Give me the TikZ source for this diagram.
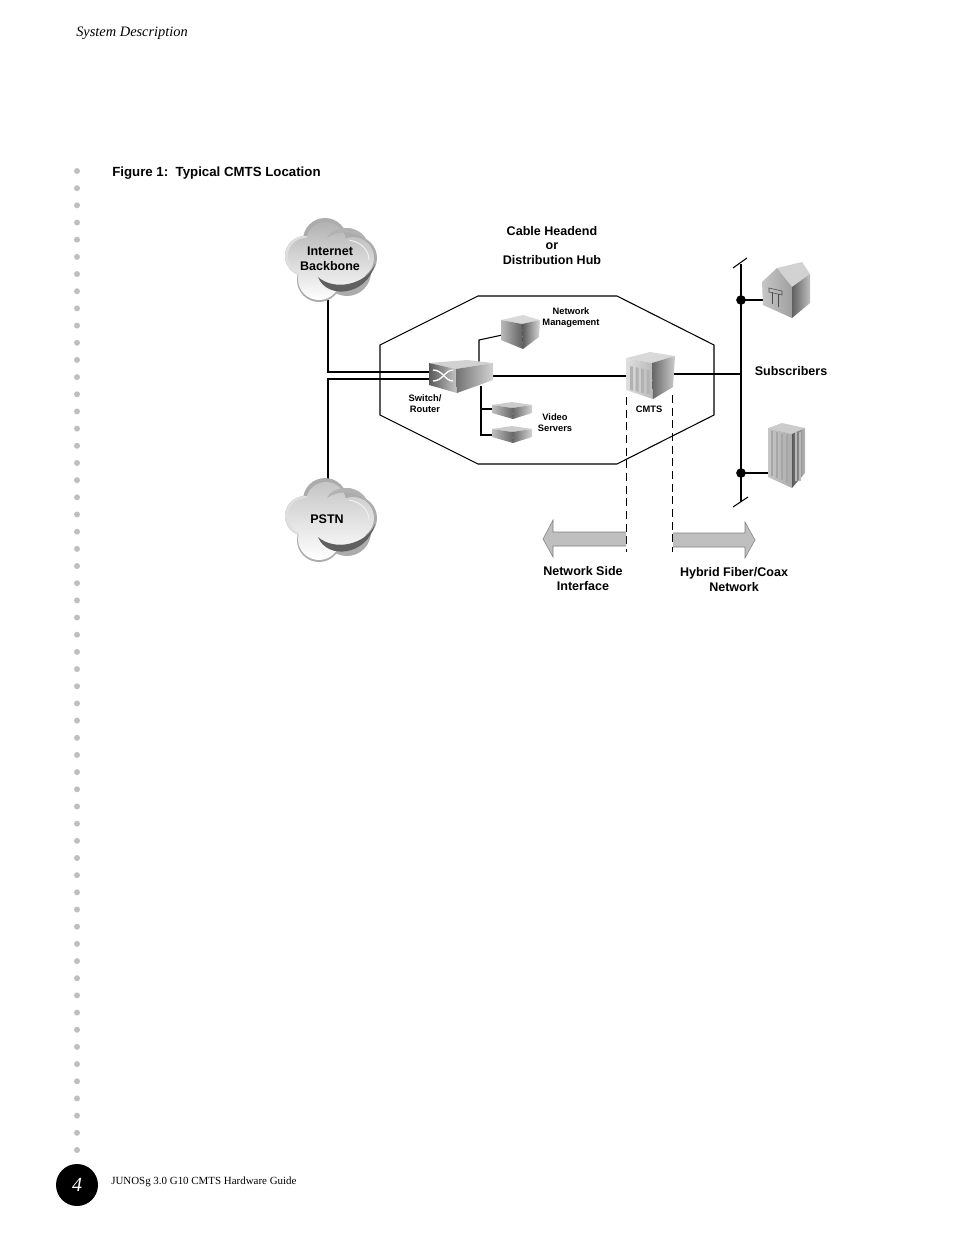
\documentclass[tikz,border=0pt]{standalone}
\usepackage{fontspec}
\setmainfont{Liberation Sans}
\newfontfamily\pagefont{Liberation Serif}
\definecolor{rail}{gray}{0.75}
\definecolor{arrowgray}{gray}{0.75}

\tikzset{
    biglabel/.style={font=\fontsize{9.4}{11}\selectfont\bfseries, align=center},
    smalllabel/.style={font=\fontsize{7}{8.2}\selectfont\bfseries, align=center},
    thickline/.style={black, line width=1.7pt},
    thinline/.style={black, line width=0.8pt},
    dashline/.style={black, line width=0.6pt, dash pattern=on 6pt off 3.5pt},
    flowarrow/.style={fill=arrowgray, draw=gray, line width=0.4pt}
}

% one cloud, shifted to its centre
\newcommand{\cloudat}[3]{
    \begin{scope}[shift={(#1,#2)}]
        \fill[gray!65] (-26,-4) circle (20) (-6,-20) circle (22) (16,-14) circle (18) (24,-2) circle (22) (-12,20) circle (22) (16,12) circle (24);
        \fill[gray!25] (-26,-4) circle (20);
        \shade[top color=gray!#3, middle color=gray!#3, bottom color=white] (-25,-4) circle (18) (-5,-18) circle (20) (22,-2) circle (21) (-12,19) circle (21) (14,8) circle (22);
        \fill[gray!60] (-4,-22) .. controls (0,-34) and (30,-38) .. (37,-17) .. controls (28,-30) and (6,-30) .. (-4,-22);
        \fill[gray!75!black] (-13,17) .. controls (-4,40) and (36,36) .. (44,4) .. controls (36,24) and (4,32) .. (-13,17);
        \draw[gray!10, line width=0.7pt] (18,-20) .. controls (30,-18) and (38,-10) .. (38,0);
    \end{scope}
}

\begin{document}
\begin{tikzpicture}[x=0.75pt, y=-0.75pt]
    \useasboundingbox (0,0) rectangle (954,1235);

    % page furniture
    \foreach \i in {0,...,57}
        \fill[rail] (77,171+17.175*\i) circle (3);
    \node[anchor=west, inner sep=0pt, font=\fontsize{10.8}{12}\selectfont\pagefont\itshape] (header) at (76,33) {System Description};
    \node[anchor=west, inner sep=0pt, font=\fontsize{9.95}{12}\selectfont\bfseries] (caption) at (112,173) {Figure 1:\ \ Typical CMTS Location};
    \fill[black] (77,1185) circle (21);
    \node[white, inner sep=0pt, font=\fontsize{15}{15}\selectfont\pagefont\itshape] (pageno) at (77,1185) {4};
    \node[anchor=west, inner sep=0pt, font=\fontsize{8.2}{10}\selectfont\pagefont] (footer) at (111,1182) {JUNOSg 3.0 G10 CMTS Hardware Guide};

    % hub outline
    \draw[black, line width=0.8pt] (380,345) -- (478,296) -- (617,296) -- (714,345) -- (714,415) -- (617,464) -- (478,464) -- (380,415) -- cycle;

    % connection points
    \coordinate (inet) at (328,300);
    \coordinate (pstn) at (328,482);
    \coordinate (swa) at (431,372);
    \coordinate (swb) at (431,379);
    \coordinate (swc) at (490,376);
    \coordinate (swd) at (479,364);
    \coordinate (swe) at (481,386);
    \coordinate (nm) at (507,334);
    \coordinate (nmb) at (479,340);
    \coordinate (vsa) at (493,409);
    \coordinate (vsb) at (493,435);
    \coordinate (cmtsa) at (628,376);
    \coordinate (cmtsb) at (672,374);
    \coordinate (bus) at (741,374);
    \coordinate (bustop) at (741,264);
    \coordinate (busbot) at (741,502);
    \coordinate (tapa) at (741,300);
    \coordinate (tapb) at (741,473);
    \coordinate (house) at (764,300);
    \coordinate (tower) at (769,473);

    \draw[thickline] (inet) |- (swa);
    \draw[thickline] (pstn) |- (swb);
    \draw[thickline] (swc) -- (cmtsa);
    \draw[thickline] (cmtsb) -- (bus);
    \draw[thinline] (swd) -- (nmb) -- (nm);
    \draw[thinline] (swe) |- (vsa);
    \draw[thinline] (swe) |- (vsb);
    \draw[thinline] (bustop) -- (busbot);
    \draw[thinline] (733,268) -- (747,258);
    \draw[thinline] (733,507) -- (748,497);
    \draw[thinline] (tapa) -- (house);
    \draw[thinline] (tapb) -- (tower);
    \filldraw[black] (tapa) circle (4.5);
    \filldraw[black] (tapb) circle (4.5);

    % clouds
    \cloudat{331}{260}{60}
    \cloudat{331}{520}{45}

    % switch
    \fill[gray!35] (429,363) -- (467,360) -- (493,363) -- (456,369) -- cycle;
    \shade[left color=gray!70!black, right color=gray!45] (429,363) -- (456,369) -- (457,393) -- (429,385) -- cycle;
    \shade[left color=gray!90!black, right color=gray!35] (456,369) -- (493,363) -- (493,380) -- (457,393) -- cycle;
    \draw[white, line width=1pt] (433,370) .. controls (443,370) and (445,381) .. (453,381);
    \draw[white, line width=1pt] (433,381) .. controls (443,381) and (445,370) .. (453,370);

    % network management box
    \fill[gray!30] (501,320) -- (523,315) -- (540,320) -- (522,324) -- cycle;
    \shade[left color=gray!55, right color=gray!75!black] (501,320) -- (522,324) -- (523,349) -- (501,340) -- cycle;
    \shade[left color=gray!70!black, right color=gray!30] (522,324) -- (540,320) -- (539,337) -- (523,349) -- cycle;

    % video servers
    \foreach \dy in {0,24} {
        \fill[gray!40] (492,405+\dy) -- (512,402+\dy) -- (532,405+\dy) -- (512,408+\dy) -- cycle;
        \shade[left color=gray!50, right color=gray!80!black] (492,405+\dy) -- (512,408+\dy) -- (513,419+\dy) -- (492,413+\dy) -- cycle;
        \shade[left color=gray!80!black, right color=gray!35] (512,408+\dy) -- (532,405+\dy) -- (532,413+\dy) -- (513,419+\dy) -- cycle;
    }

    % cmts
    \fill[gray!30] (626,358) -- (650,352) -- (675,356) -- (652,363) -- cycle;
    \shade[left color=gray!25, right color=gray!55] (626,358) -- (652,363) -- (653,399) -- (626,390) -- cycle;
    \shade[left color=gray!80!black, right color=gray!40] (652,363) -- (675,356) -- (673,387) -- (653,399) -- cycle;
    \foreach \i in {0,1,2,3}
        \fill[gray!60] (630+5.5*\i,366+1.2*\i) -- ++(3,0.6) -- ++(0,24) -- ++(-3,-0.8) -- cycle;

    % house
    \fill[gray!35] (777,268) -- (802,262) -- (810,274) -- (792,287) -- cycle;
    \shade[left color=gray!45, right color=gray!75] (762,282) -- (777,268) -- (792,287) -- (792,318) -- (763,305) -- cycle;
    \shade[left color=gray!75!black, right color=gray!50] (792,287) -- (810,274) -- (810,303) -- (792,318) -- cycle;
    \draw[gray!60!black, line width=0.4pt] (769,288) -- (782,291) -- (782,295) -- (769,292) -- cycle;
    \draw[gray!60!black, line width=0.4pt] (772,292) -- (772,304) (778,294) -- (778,307);

    % tower
    \fill[gray!40] (768,428) -- (782,423) -- (805,428) -- (792,434) -- cycle;
    \shade[left color=gray!45, right color=gray!65] (768,428) -- (792,434) -- (792,488) -- (768,477) -- cycle;
    \shade[left color=gray!70!black, right color=gray!55] (792,434) -- (805,428) -- (805,473) -- (792,488) -- cycle;
    \foreach \x in {772,777,782,787}
        \draw[gray!70, line width=0.9pt] (\x,431+\x*0.24-185) -- (\x,475+\x*0.42-323);
    \foreach \x in {796,800}
        \draw[gray!55, line width=0.9pt] (\x,432) -- (\x,481);

    % interface arrows
    \draw[dashline] (626.5,397) -- (626.5,552);
    \draw[dashline] (672.5,395) -- (672.5,552);
    \draw[flowarrow] (626,532) -- (553,532) -- (553,520) -- (543,539) -- (553,557) -- (553,546) -- (626,546);
    \draw[flowarrow] (673,533) -- (745,533) -- (745,522) -- (755,540) -- (745,558) -- (745,547) -- (673,547);

    % labels
    \node[biglabel] (inetlabel) at (330,258.5) {Internet\\Backbone};
    \node[biglabel] (pstnlabel) at (327,519.5) {PSTN};
    \node[biglabel] (hublabel) at (552,245.5) {Cable Headend\\or\\Distribution Hub};
    \node[biglabel] (sublabel) at (791,371) {Subscribers};
    \node[biglabel] (netlabel) at (583,578.5) {Network Side\\Interface};
    \node[biglabel] (hfclabel) at (734,579.5) {Hybrid Fiber/Coax\\Network};
    \node[smalllabel] (nmlabel) at (571,317.5) {Network\\Management};
    \node[smalllabel] (swlabel) at (425,403.5) {Switch/\\Router};
    \node[smalllabel] (vslabel) at (555,422.5) {Video\\Servers};
    \node[smalllabel] (cmtslabel) at (649,409) {CMTS};
\end{tikzpicture}
\end{document}
